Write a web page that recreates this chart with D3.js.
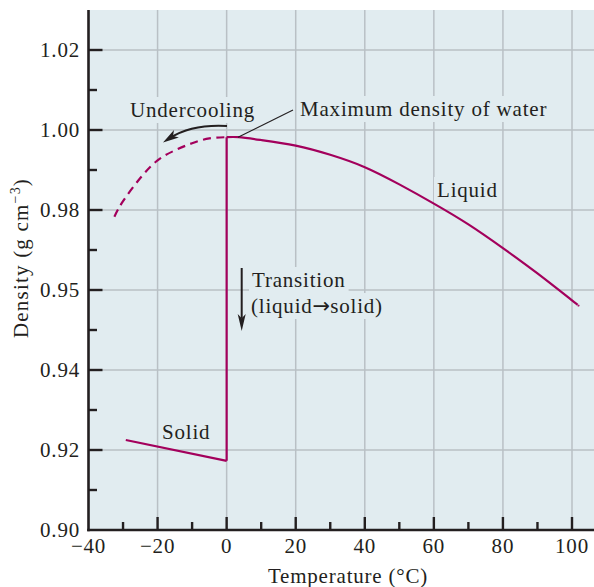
<!DOCTYPE html>
<html><head><meta charset="utf-8">
<script src="https://cdn.jsdelivr.net/npm/d3@7"></script>
<style>html,body{margin:0;padding:0;background:#fff;} svg{display:block}</style>
</head><body><svg id="c" width="594" height="587"></svg>
<script>
// ---- data ----
const xTicksMajor = [-40, -20, 0, 20, 40, 60, 80, 100];
const xTicksMinor = [-30, -10, 10, 30, 50, 70, 90];
const yTickValues = [0.90, 0.92, 0.94, 0.95, 0.98, 1.00, 1.02];
const yTickLabels = ["0.90", "0.92", "0.94", "0.95", "0.98", "1.00", "1.02"];
const yTicksMinor = [0.91, 0.93, 0.945, 0.965, 0.99, 1.01];

const liquidTemp    = [0, 3.5, 10, 20, 30, 40, 50, 60, 70, 80, 90, 100, 101.8];
const liquidDensity = [0.9982, 0.9982, 0.9975, 0.9961, 0.9938, 0.9907, 0.9864, 0.9816, 0.9746, 0.9657, 0.9562, 0.9487, 0.9481];

const underTemp    = [-32.5, -30, -25, -20, -15, -10, -5, 0];
const underDensity = [0.9775, 0.9822, 0.9880, 0.9924, 0.9949, 0.9967, 0.9979, 0.9982];

const solidTemp    = [-29.2, 0];
const solidDensity = [0.9225, 0.9173];

const transTemp    = [0, 0];
const transDensity = [0.9982, 0.9173];

// ---- layout ----
const svg = d3.select("#c");
const L = 88.5, R = 594, T = 10, B = 530;
const BG = "#e1ecf0", GRID = "#b9c0c5", INK = "#231f20", LINE = "#a3005c";
const FONT = "'Liberation Serif', 'Times New Roman', serif";

const x = d3.scaleLinear().domain([-40, 100]).range([L, 572]);
const y = d3.scaleLinear().domain(yTickValues).range(yTickValues.map((d, i) => B - i * 80));

svg.append("rect").attr("x", L).attr("y", T).attr("width", R - L).attr("height", B - T).attr("fill", BG);

// grid
const g = svg.append("g");
g.selectAll(".vg").data(xTicksMajor.slice(1)).join("line")
  .attr("x1", d => x(d)).attr("x2", d => x(d)).attr("y1", T).attr("y2", B)
  .attr("stroke", GRID).attr("stroke-width", 1.5);
g.selectAll(".hg").data(yTickValues.slice(1)).join("line")
  .attr("x1", L).attr("x2", R).attr("y1", d => y(d)).attr("y2", d => y(d))
  .attr("stroke", GRID).attr("stroke-width", 1.5);

// annotation labels with background
const labels = svg.append("g");
function label(parts, px, py) {
  const t = labels.append("text").attr("x", px).attr("y", py)
    .attr("font-family", FONT).attr("font-size", 21).attr("letter-spacing", 0.8)
    .attr("fill", INK);
  parts.forEach(p => {
    const s = t.append("tspan").text(p.t);
    if (p.f) s.attr("font-family", p.f).attr("font-size", p.s).attr("letter-spacing", 0);
  });
  const b = t.node().getBBox();
  labels.insert("rect", "text").attr("x", b.x - 3).attr("y", b.y - 1)
    .attr("width", b.width + 6).attr("height", b.height + 2).attr("fill", BG);
  return t;
}
label([{t: "Undercooling"}], 130, 117);
label([{t: "Maximum density of water"}], 300, 116);
label([{t: "Liquid"}], 437, 197);
label([{t: "Solid"}], 162, 439);
label([{t: "Transition"}], 252, 287);
label([{t: "(liquid"}, {t: "\u2192", f: "'DejaVu Sans', sans-serif", s: 21}, {t: "solid)"}], 251, 313);

// data lines
const line = d3.line().x(d => x(d[0])).y(d => y(d[1])).curve(d3.curveNatural);
const straight = d3.line().x(d => x(d[0])).y(d => y(d[1]));
svg.append("path").attr("d", line(liquidTemp.map((t, i) => [t, liquidDensity[i]])))
  .attr("fill", "none").attr("stroke", LINE).attr("stroke-width", 2.2);
svg.append("path").attr("d", line(underTemp.map((t, i) => [t, underDensity[i]])))
  .attr("fill", "none").attr("stroke", LINE).attr("stroke-width", 2.2).attr("stroke-dasharray", "8,5.5");
svg.append("path").attr("d", straight(solidTemp.map((t, i) => [t, solidDensity[i]])))
  .attr("fill", "none").attr("stroke", LINE).attr("stroke-width", 2.2);
svg.append("path").attr("d", straight(transTemp.map((t, i) => [t, transDensity[i]])))
  .attr("fill", "none").attr("stroke", LINE).attr("stroke-width", 2.2);

// leader line
svg.append("line").attr("x1", 293).attr("y1", 110).attr("x2", x(3.3)).attr("y2", y(0.9982))
  .attr("stroke", INK).attr("stroke-width", 1.1);

// arrows
function head(tx, ty, ang, len, wid) {
  const ca = Math.cos(ang), sa = Math.sin(ang);
  const bx = tx - len * ca, by = ty - len * sa;
  const px = -sa * wid / 2, py = ca * wid / 2;
  svg.append("path").attr("d", `M${tx},${ty}L${bx + px},${by + py}L${bx + len*0.25*ca},${by + len*0.25*sa}L${bx - px},${by - py}Z`)
    .attr("fill", INK);
}
// undercooling curved arrow
svg.append("path").attr("d", "M227,126 Q192,124 170,138")
  .attr("fill", "none").attr("stroke", INK).attr("stroke-width", 2.2);
head(163, 142.5, Math.atan2(142.5 - 136, 163 - 173), 16, 9);
// transition arrow
svg.append("line").attr("x1", 241.7).attr("x2", 241.7).attr("y1", 268).attr("y2", 318)
  .attr("stroke", INK).attr("stroke-width", 2);
head(241.7, 331, Math.PI / 2, 17, 8);

// axes
const ax = svg.append("g");
ax.selectAll(".xM").data(xTicksMajor.slice(1)).join("line")
  .attr("x1", d => x(d)).attr("x2", d => x(d)).attr("y1", B).attr("y2", B - 13)
  .attr("stroke", INK).attr("stroke-width", 2.4);
ax.selectAll(".xm").data(xTicksMinor).join("line")
  .attr("x1", d => x(d)).attr("x2", d => x(d)).attr("y1", B).attr("y2", B - 8)
  .attr("stroke", INK).attr("stroke-width", 2.4);
ax.selectAll(".yM").data(yTickValues.slice(1)).join("line")
  .attr("x1", L).attr("x2", L + 14).attr("y1", d => y(d)).attr("y2", d => y(d))
  .attr("stroke", INK).attr("stroke-width", 2.4);
ax.selectAll(".ym").data(yTicksMinor).join("line")
  .attr("x1", L).attr("x2", L + 8.5).attr("y1", d => y(d)).attr("y2", d => y(d))
  .attr("stroke", INK).attr("stroke-width", 2.4);
ax.append("line").attr("x1", L).attr("x2", L).attr("y1", T).attr("y2", B + 1.2)
  .attr("stroke", INK).attr("stroke-width", 2.6);
ax.append("line").attr("x1", L - 1.3).attr("x2", R).attr("y1", B).attr("y2", B)
  .attr("stroke", INK).attr("stroke-width", 2.6);

ax.selectAll(".xl").data(xTicksMajor).join("text")
  .attr("x", d => x(d)).attr("y", 553).attr("text-anchor", "middle")
  .attr("font-family", FONT).attr("font-size", 21).attr("letter-spacing", 0.8).attr("fill", INK)
  .text(d => d < 0 ? "\u2212" + Math.abs(d) : String(d));
ax.selectAll(".yl").data(yTickValues).join("text")
  .attr("x", 80).attr("y", d => y(d) + 7).attr("text-anchor", "end")
  .attr("font-family", FONT).attr("font-size", 21).attr("letter-spacing", 0.8).attr("fill", INK)
  .text((d, i) => yTickLabels[i]);

svg.append("text").attr("x", 348).attr("y", 583).attr("text-anchor", "middle")
  .attr("font-family", FONT).attr("font-size", 21).attr("letter-spacing", 0.8).attr("fill", INK)
  .text("Temperature (\u00B0C)");

const yt = svg.append("text").attr("transform", "translate(28,258) rotate(-90)").attr("text-anchor", "middle")
  .attr("font-family", FONT).attr("font-size", 21).attr("letter-spacing", 1.2).attr("fill", INK);
yt.append("tspan").text("Density (g cm");
yt.append("tspan").attr("font-size", 14).attr("dy", -8).text("\u22123");
yt.append("tspan").attr("dy", 8).text(")");
</script>
</body></html>
